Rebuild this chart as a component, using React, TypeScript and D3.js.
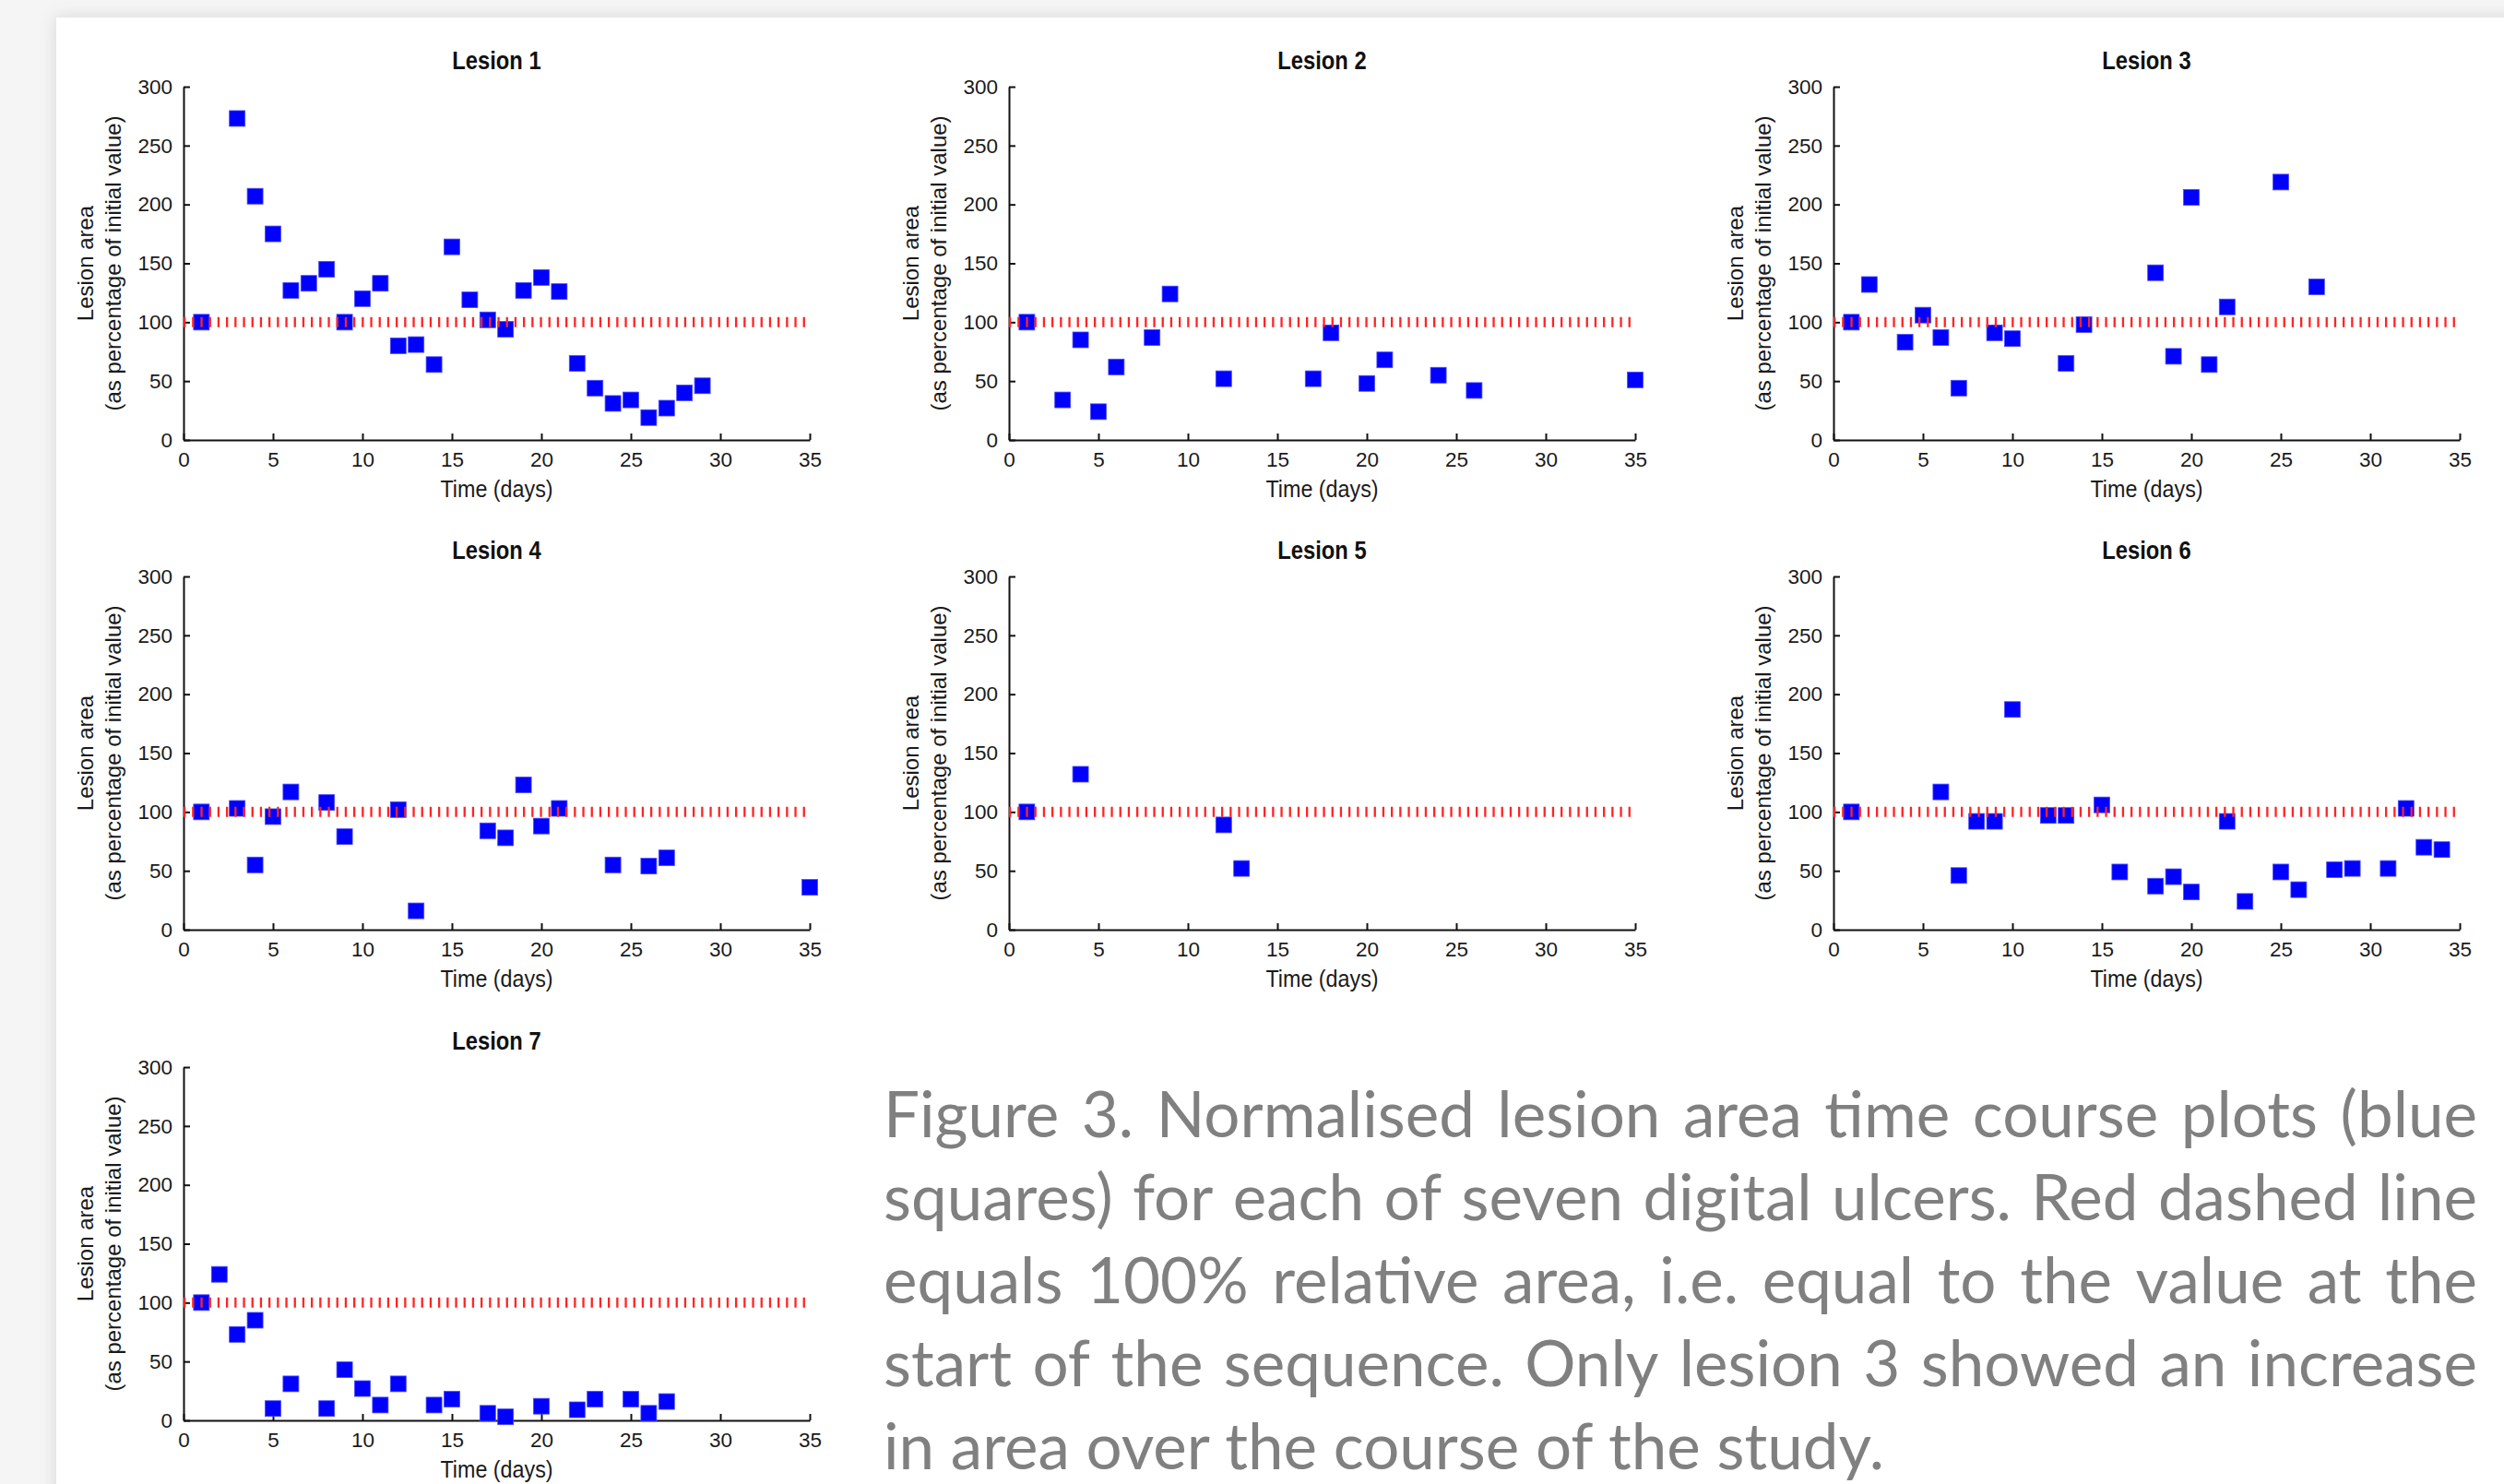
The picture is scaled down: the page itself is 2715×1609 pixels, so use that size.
import { useEffect, useRef } from 'react';
import * as d3 from 'd3';

const WIDTH = 2715;
const HEIGHT = 1609;

// values (day, % of initial area)
const lesion1Days = [1, 3, 4, 5, 6, 7, 8, 9, 10, 11, 12, 13, 14, 15, 16, 17, 18, 19, 20, 21, 22, 23, 24, 25, 26, 27, 28, 29];
const lesion1Area = [100, 273, 207, 175, 127, 133, 145, 100, 120, 133, 80, 81, 64, 164, 119, 102, 94, 127, 138, 126, 65, 44, 31, 34, 19, 27, 40, 46];

const lesion2Days = [1, 3, 4, 5, 6, 8, 9, 12, 17, 18, 20, 21, 24, 26, 35];
const lesion2Area = [100, 34, 85, 24, 62, 87, 124, 52, 52, 91, 48, 68, 55, 42, 51];

const lesion3Days = [1, 2, 4, 5, 6, 7, 9, 10, 13, 14, 18, 19, 20, 21, 22, 25, 27];
const lesion3Area = [100, 132, 83, 106, 87, 44, 91, 86, 65, 98, 142, 71, 206, 64, 113, 219, 130];

const lesion4Days = [1, 3, 4, 5, 6, 8, 9, 12, 13, 17, 18, 19, 20, 21, 24, 26, 27, 35];
const lesion4Area = [100, 103, 55, 96, 117, 108, 79, 102, 16, 84, 78, 123, 88, 103, 55, 54, 61, 36];

const lesion5Days = [1, 4, 12, 13];
const lesion5Area = [100, 132, 89, 52];

const lesion6Days = [1, 6, 7, 8, 9, 10, 12, 13, 15, 16, 18, 19, 20, 22, 23, 25, 26, 28, 29, 31, 32, 33, 34];
const lesion6Area = [100, 117, 46, 92, 92, 187, 97, 97, 106, 49, 37, 45, 32, 92, 24, 49, 34, 51, 52, 52, 103, 70, 68];

const lesion7Days = [1, 2, 3, 4, 5, 6, 8, 9, 10, 11, 12, 14, 15, 17, 18, 20, 22, 23, 25, 26, 27];
const lesion7Area = [100, 124, 73, 85, 10, 31, 10, 43, 27, 13, 31, 13, 18, 6, 3, 12, 9, 18, 18, 6, 16];

const lesionTitles = ['Lesion 1', 'Lesion 2', 'Lesion 3', 'Lesion 4', 'Lesion 5', 'Lesion 6', 'Lesion 7'];
const xTicks = [0, 5, 10, 15, 20, 25, 30, 35];
const yTicks = [0, 50, 100, 150, 200, 250, 300];
const referenceLevel = 100;

const captionLines = [
  'Figure 3. Normalised lesion area time course plots (blue',
  'squares) for each of seven digital ulcers. Red dashed line',
  'equals 100% relative area, i.e. equal to the value at the',
  'start of the sequence. Only lesion 3 showed an increase',
  'in area over the course of the study.',
];

const COLS = [199, 1094, 1988];
const ROWS = [94, 625, 1157];
const PW = 679;
const PH = 383;

const SANS = '"Liberation Sans", Arial, sans-serif';
// titles and x label come from a condensed matlab font
const SQUEEZE = 0.88;

const App = () => {
  const svgRef = useRef(null);

  useEffect(() => {
    const panels = [
      [lesion1Days, lesion1Area],
      [lesion2Days, lesion2Area],
      [lesion3Days, lesion3Area],
      [lesion4Days, lesion4Area],
      [lesion5Days, lesion5Area],
      [lesion6Days, lesion6Area],
      [lesion7Days, lesion7Area],
    ];

    const svg = d3.select(svgRef.current);
    svg.selectAll('*').remove();

    const filter = svg.append('defs').append('filter').attr('id', 'card-shadow')
      .attr('x', '-5%').attr('y', '-5%').attr('width', '110%').attr('height', '110%');
    filter.append('feDropShadow').attr('dx', 0).attr('dy', 0).attr('stdDeviation', 9)
      .attr('flood-color', '#000').attr('flood-opacity', 0.13);

    svg.append('rect').attr('width', WIDTH).attr('height', HEIGHT).attr('fill', '#f5f5f5');
    svg.append('rect').attr('x', 61).attr('y', 19).attr('width', WIDTH).attr('height', HEIGHT)
      .attr('fill', '#fff').attr('filter', 'url(#card-shadow)');

    panels.forEach(([days, area], i) => {
      const left = COLS[i % 3];
      const top = ROWS[Math.floor(i / 3)];
      const x = d3.scaleLinear().domain([0, 35]).range([left, left + PW]);
      const y = d3.scaleLinear().domain([0, 300]).range([top + PH, top]);
      const g = svg.append('g');

      const gx = g.append('g').attr('transform', `translate(0,${top + PH})`)
        .call(d3.axisBottom(x).tickValues(xTicks).tickSizeInner(-7).tickSizeOuter(0).tickPadding(13));
      const gy = g.append('g').attr('transform', `translate(${left},0)`)
        .call(d3.axisLeft(y).tickValues(yTicks).tickSizeInner(-7).tickSizeOuter(0).tickPadding(12));
      [gx, gy].forEach(a => {
        a.attr('font-family', SANS).attr('font-size', 22.5);
        a.selectAll('path, line').attr('stroke', '#111').attr('stroke-width', 2);
        a.selectAll('text').attr('fill', '#1a1a1a');
      });

      g.append('g').selectAll('rect')
        .data(days.map((d, k) => [d, area[k]]))
        .join('rect')
        .attr('x', d => x(d[0]) - 8.5)
        .attr('y', d => y(d[1]) - 8.5)
        .attr('width', 17)
        .attr('height', 17)
        .attr('fill', '#0000ff')
        .attr('stroke', '#4a4aff')
        .attr('stroke-width', 0.8);

      g.append('line')
        .attr('x1', x(0)).attr('x2', x(35))
        .attr('y1', y(referenceLevel)).attr('y2', y(referenceLevel))
        .attr('stroke', '#ff2424').attr('stroke-width', 11)
        .attr('stroke-dasharray', '2.3 6.9');

      const cx = (x(0) + x(35)) / 2;
      g.append('text')
        .attr('transform', `translate(${cx},${top - 28}) scale(${SQUEEZE},1)`).attr('dy', '0.35em')
        .attr('text-anchor', 'middle').attr('font-family', SANS).attr('font-weight', 'bold')
        .attr('font-size', 27).attr('fill', '#111').text(lesionTitles[i]);

      g.append('text')
        .attr('transform', `translate(${cx},${top + PH + 53}) scale(${SQUEEZE},1)`).attr('dy', '0.35em')
        .attr('text-anchor', 'middle').attr('font-family', SANS)
        .attr('font-size', 26.5).attr('fill', '#1a1a1a').text('Time (days)');

      const cy = (y(0) + y(300)) / 2;
      [['Lesion area', -106], ['(as percentage of initial value)', -76]].forEach(([label, off]) => {
        g.append('text')
          .attr('transform', `translate(${left + off},${cy}) rotate(-90)`)
          .attr('dy', '0.35em').attr('text-anchor', 'middle')
          .attr('font-family', SANS)
          .attr('font-size', 24).attr('fill', '#1a1a1a').text(label);
      });
    });

    // caption, justified like the original slide text; size picked from the short last line
    const capLeft = 958;
    const capRight = 2686;
    const lastLineWidth = 1085;
    const cap = svg.append('g').attr('fill', '#808080').attr('font-family', 'Lato, "Open Sans", sans-serif');
    const probe = cap.append('text').attr('font-size', 72).text(captionLines[captionLines.length - 1]);
    const fs = 72 * lastLineWidth / probe.node().getComputedTextLength();
    probe.remove();

    captionLines.forEach((line, i) => {
      const baseY = 1233 + i * 90;
      if (i === captionLines.length - 1) {
        cap.append('text').attr('font-size', fs).attr('x', capLeft).attr('y', baseY).text(line);
        return;
      }
      const words = line.split(' ');
      const nodes = words.map(w => cap.append('text').attr('font-size', fs).attr('y', baseY).text(w));
      const widths = nodes.map(n => n.node().getComputedTextLength());
      const gap = (capRight - capLeft - d3.sum(widths)) / (words.length - 1);
      let wx = capLeft;
      nodes.forEach((n, k) => {
        n.attr('x', wx);
        wx += widths[k] + gap;
      });
    });
  }, []);

  return (
    <svg
      ref={svgRef}
      width={WIDTH}
      height={HEIGHT}
      style={{ position: 'absolute', left: 0, top: 0, display: 'block' }}
    />
  );
};

export default App;
